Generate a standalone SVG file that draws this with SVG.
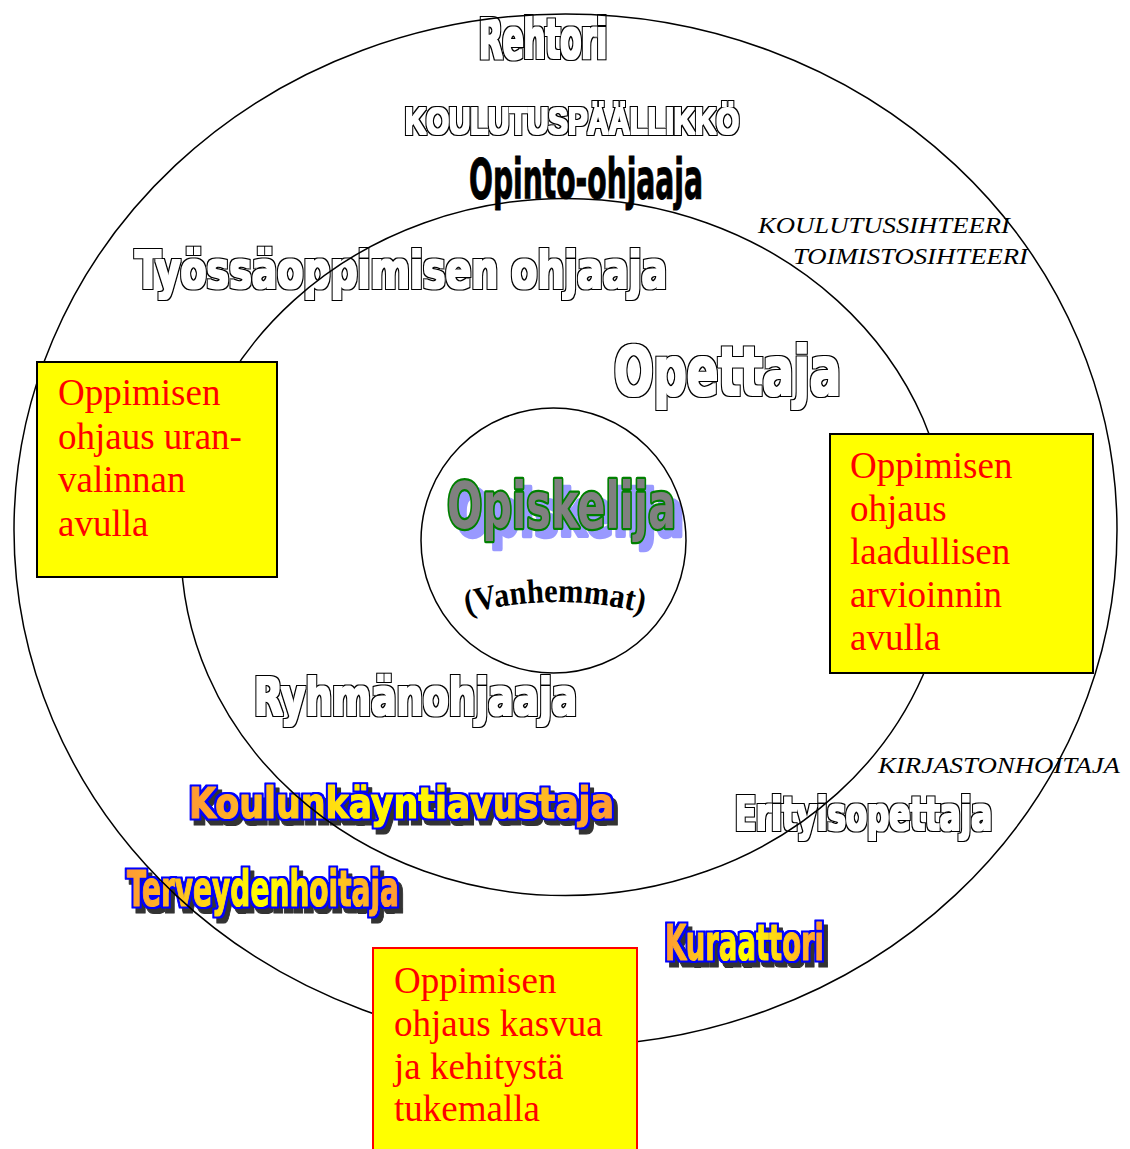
<svg xmlns="http://www.w3.org/2000/svg" width="1130" height="1149" viewBox="0 0 1130 1149">
<defs>
<linearGradient id="gold" x1="0" y1="0" x2="1" y2="0">
<stop offset="0" stop-color="#ff9933"/>
<stop offset="0.5" stop-color="#ffff00"/>
<stop offset="1" stop-color="#ff9933"/>
</linearGradient>
<filter id="fo" x="-5%" y="-25%" width="110%" height="150%" color-interpolation-filters="sRGB">
<feMorphology in="SourceAlpha" operator="dilate" radius="0.5" result="in1"/>
<feMorphology in="SourceAlpha" operator="dilate" radius="2" result="out1"/>
<feFlood flood-color="#000"/><feComposite in2="out1" operator="in" result="blk"/>
<feFlood flood-color="#fff"/><feComposite in2="in1" operator="in" result="wht"/>
<feMerge><feMergeNode in="blk"/><feMergeNode in="wht"/></feMerge>
</filter>
<filter id="fg" x="-5%" y="-30%" width="115%" height="170%" color-interpolation-filters="sRGB">
<feMorphology in="SourceAlpha" operator="dilate" radius="2" result="o"/>
<feOffset in="o" dx="4" dy="5" result="so"/>
<feFlood flood-color="#333333"/><feComposite in2="so" operator="in" result="sh"/>
<feFlood flood-color="#0000ff"/><feComposite in2="o" operator="in" result="bl"/>
<feMerge><feMergeNode in="sh"/><feMergeNode in="bl"/><feMergeNode in="SourceGraphic"/></feMerge>
</filter>
<filter id="fs" x="-5%" y="-30%" width="115%" height="170%" color-interpolation-filters="sRGB">
<feOffset in="SourceAlpha" dx="8" dy="8" result="so"/>
<feFlood flood-color="#9999ff"/><feComposite in2="so" operator="in" result="sh"/>
<feMerge><feMergeNode in="sh"/><feMergeNode in="SourceGraphic"/></feMerge>
</filter>
<path id="arc" d="M 467 614 Q 556 590 647 614" fill="none"/>
<style>
.ring{fill:none;stroke:#000;stroke-width:1.5}
.box{fill:#ffff00;stroke:#000;stroke-width:2}
.boxr{fill:#ffff00;stroke:#ff0000;stroke-width:2}
.btxt{font-family:"Liberation Serif",serif;font-size:37px;fill:#ff0000}
.wa{font-family:"DejaVu Sans Condensed","DejaVu Sans","Liberation Sans",sans-serif;font-stretch:condensed;font-weight:bold}
.wide{font-family:"Liberation Sans",Arial,sans-serif;font-stretch:normal;font-weight:bold}
.outline{fill:#fff;filter:url(#fo)}
.solid{fill:#000;stroke:#000;stroke-width:1}
.gold{fill:url(#gold);stroke:url(#gold);stroke-width:1.2;stroke-linejoin:round;filter:url(#fg)}
.ital{font-family:"Liberation Serif",serif;font-style:italic;font-size:24px;fill:#000}
</style>
</defs>
<rect width="1130" height="1149" fill="#fff"/>

<g id="labels">
<g id="rehtori"><text class="wa outline" x="479" y="58" font-size="56" textLength="128" lengthAdjust="spacingAndGlyphs">Rehtori</text></g>
<g id="koulutuspaallikko"><text class="wide outline" x="405" y="134" font-size="37" textLength="334" lengthAdjust="spacingAndGlyphs">KOULUTUSPÄÄLLIKKÖ</text></g>
<g id="opinto-ohjaaja"><text class="wa solid" x="469" y="198" font-size="55" textLength="234" lengthAdjust="spacingAndGlyphs">Opinto-ohjaaja</text></g>
<g id="sihteerit">
<text class="ital" x="758" y="233" textLength="252" lengthAdjust="spacingAndGlyphs">KOULUTUSSIHTEERI</text>
<text class="ital" x="793" y="264" textLength="235" lengthAdjust="spacingAndGlyphs">TOIMISTOSIHTEERI</text>
</g>
<g id="tyossaoppimisen-ohjaaja"><text class="wa outline" x="135" y="288" font-size="52" textLength="532" lengthAdjust="spacingAndGlyphs">Työssäoppimisen ohjaaja</text></g>
<g id="opettaja"><text class="wa outline" x="614" y="395" font-size="68" textLength="227" lengthAdjust="spacingAndGlyphs">Opettaja</text></g>
<g id="opiskelija">
<text class="wa" x="447" y="528" font-size="64" fill="#808080" stroke="#008000" stroke-width="4.5" stroke-linejoin="round" paint-order="stroke" filter="url(#fs)" textLength="229" lengthAdjust="spacingAndGlyphs">Opiskelija</text>
</g>
<g id="vanhemmat">
<text font-family="Liberation Serif,serif" font-weight="bold" font-size="34" fill="#000"><textPath href="#arc" textLength="178" lengthAdjust="spacingAndGlyphs">(Vanhemmat)</textPath></text>
</g>
<g id="ryhmanohjaaja"><text class="wa outline" x="254" y="715" font-size="52" textLength="323" lengthAdjust="spacingAndGlyphs">Ryhmänohjaaja</text></g>
<g id="kirjastonhoitaja"><text class="ital" x="878" y="773" textLength="242" lengthAdjust="spacingAndGlyphs">KIRJASTONHOITAJA</text></g>
<g id="erityisopettaja"><text class="wa outline" x="735" y="830" font-size="46" textLength="257" lengthAdjust="spacingAndGlyphs">Erityisopettaja</text></g>
<g id="koulunkayntiavustaja"><text class="wa gold" x="189" y="818" font-size="43" textLength="425" lengthAdjust="spacingAndGlyphs">Koulunkäyntiavustaja</text></g>
<g id="terveydenhoitaja"><text class="wa gold" x="127" y="906" font-size="49" textLength="272" lengthAdjust="spacingAndGlyphs">Terveydenhoitaja</text></g>
<g id="kuraattori"><text class="wa gold" x="665" y="960" font-size="50" textLength="159" lengthAdjust="spacingAndGlyphs">Kuraattori</text></g>
</g>

<g id="rings">
<ellipse id="outer-ring" class="ring" cx="565.5" cy="530" rx="551.5" ry="516"/>
<ellipse id="middle-ring" class="ring" cx="565.5" cy="547" rx="384.5" ry="348.5"/>
<circle id="inner-ring" class="ring" cx="553.5" cy="540.5" r="132.5"/>
</g>

<g id="box-uranvalinta">
<rect class="box" x="37" y="362" width="240" height="215"/>
<text class="btxt"><tspan x="58" y="405">Oppimisen</tspan><tspan x="58" y="449">ohjaus uran-</tspan><tspan x="58" y="492">valinnan</tspan><tspan x="58" y="536">avulla</tspan></text>
</g>
<g id="box-arviointi">
<rect class="box" x="830" y="434" width="263" height="239"/>
<text class="btxt"><tspan x="850" y="478">Oppimisen</tspan><tspan x="850" y="521">ohjaus</tspan><tspan x="850" y="564">laadullisen</tspan><tspan x="850" y="607">arvioinnin</tspan><tspan x="850" y="650">avulla</tspan></text>
</g>
<g id="box-kasvu">
<rect class="boxr" x="373" y="948" width="264" height="210"/>
<text class="btxt"><tspan x="394" y="993">Oppimisen</tspan><tspan x="394" y="1036">ohjaus kasvua</tspan><tspan x="394" y="1079">ja kehitystä</tspan><tspan x="394" y="1121">tukemalla</tspan></text>
</g>
</svg>
